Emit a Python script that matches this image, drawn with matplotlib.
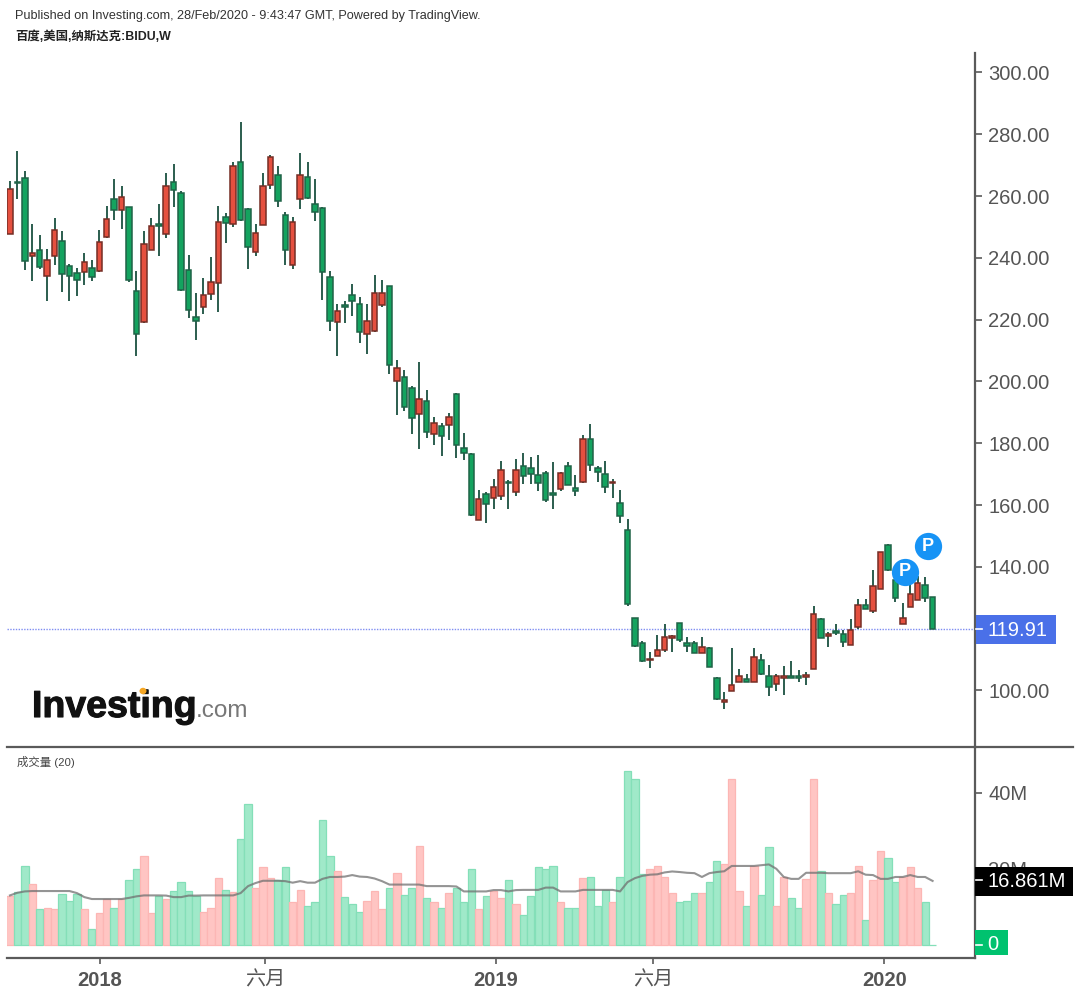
import matplotlib
matplotlib.use('Agg')
import matplotlib.pyplot as plt
import matplotlib.patheffects as pe
from matplotlib.patches import Rectangle, Circle

plt.rcParams['font.family'] = ['Liberation Sans', 'Noto Sans CJK SC', 'DejaVu Sans']

# weekly BIDU candles
opens = [247.7, 264.6, 265.7, 240.6, 242.6, 234.2, 240.7, 245.6, 237.5, 235.1,
         235.4, 236.7, 235.9, 246.6, 259.2, 255.4, 256.3, 229.2, 219.4, 242.5,
         250.8, 247.6, 264.5, 261.0, 236.2, 220.9, 224.2, 228.3, 231.8, 253.2,
         251.0, 270.9, 255.8, 241.8, 250.7, 263.7, 266.8, 253.9, 237.7, 259.0,
         266.3, 257.3, 256.2, 233.8, 219.4, 224.6, 228.0, 225.1, 215.3, 216.4,
         224.7, 230.9, 200.0, 201.4, 198.0, 189.5, 193.7, 182.9, 185.5, 185.9,
         196.0, 178.5, 176.6, 155.3, 163.7, 162.3, 162.9, 167.6, 164.1, 172.5,
         171.9, 169.6, 170.3, 163.8, 165.2, 172.5, 165.5, 167.6, 181.4, 171.9,
         170.1, 167.0, 160.7, 152.0, 123.6, 115.5, 109.7, 111.0, 113.2, 117.0,
         121.8, 115.3, 115.3, 112.1, 113.6, 104.1, 96.2, 99.8, 102.7, 103.6,
         102.8, 110.0, 104.8, 102.2, 104.0, 104.8, 104.7, 104.5, 107.0, 123.1,
         117.5, 119.4, 118.4, 114.6, 120.4, 127.8, 125.7, 132.8, 147.2, 135.9,
         121.6, 127.0, 129.4, 134.2, 130.1]
highs = [264.8, 274.5, 268.0, 250.9, 247.4, 242.8, 252.9, 248.6, 238.0, 236.7,
         241.6, 239.2, 249.1, 256.9, 265.6, 263.4, 256.6, 235.6, 248.6, 252.8,
         257.5, 267.4, 270.4, 261.5, 240.9, 228.6, 233.4, 240.4, 256.9, 254.5,
         271.0, 284.0, 256.1, 250.9, 267.4, 273.3, 269.8, 255.0, 253.2, 273.9,
         271.0, 265.6, 256.4, 235.6, 225.1, 226.2, 231.6, 227.3, 225.1, 234.5,
         232.7, 231.0, 206.8, 203.8, 198.4, 206.2, 197.3, 188.5, 186.5, 189.8,
         196.3, 183.3, 176.8, 165.0, 164.2, 168.5, 174.4, 168.0, 174.9, 176.8,
         175.6, 176.2, 170.9, 173.8, 170.8, 173.8, 169.7, 182.7, 186.2, 172.5,
         174.4, 168.4, 164.9, 155.5, 123.6, 115.9, 112.5, 117.8, 121.4, 117.8,
         121.9, 117.3, 116.0, 117.3, 114.0, 104.3, 99.6, 113.7, 107.1, 105.3,
         113.7, 111.9, 108.3, 105.3, 107.8, 109.5, 106.5, 105.9, 127.2, 123.6,
         118.8, 121.4, 119.6, 123.1, 129.6, 129.6, 139.1, 144.9, 147.3, 138.0,
         128.4, 134.7, 136.9, 136.7, 130.2]
lows = [247.7, 259.0, 236.0, 232.4, 236.4, 225.9, 237.7, 228.8, 225.9, 227.8,
        231.1, 232.4, 235.4, 246.4, 252.4, 249.4, 232.2, 208.1, 218.9, 242.4,
        240.7, 246.4, 256.4, 229.4, 220.5, 213.5, 221.7, 226.5, 222.4, 244.7,
        250.0, 251.8, 236.5, 240.5, 250.7, 262.4, 256.4, 237.6, 236.5, 255.9,
        259.0, 251.8, 226.5, 216.4, 208.1, 218.9, 221.1, 212.4, 208.8, 215.9,
        224.1, 202.3, 189.3, 190.5, 183.0, 178.1, 181.7, 179.3, 175.8, 181.2,
        175.1, 174.7, 156.3, 155.3, 154.1, 158.7, 161.6, 158.7, 162.8, 166.9,
        166.9, 164.5, 161.0, 158.7, 164.5, 166.5, 162.8, 167.0, 171.0, 167.4,
        164.0, 162.2, 154.1, 127.4, 114.0, 109.1, 107.4, 111.0, 112.6, 112.6,
        115.6, 112.6, 112.1, 112.1, 107.5, 96.8, 93.9, 99.8, 102.7, 102.7,
        102.7, 105.0, 98.1, 99.8, 98.6, 103.9, 102.7, 101.7, 106.9, 117.0,
        114.0, 118.0, 114.0, 114.6, 119.9, 126.3, 125.1, 132.8, 138.8, 128.6,
        121.6, 127.0, 129.4, 128.6, 119.91]
closes = [262.3, 264.2, 238.9, 241.6, 237.0, 239.2, 249.1, 234.9, 234.2, 232.9,
          238.5, 233.7, 245.0, 252.7, 255.4, 259.7, 232.7, 215.4, 244.4, 250.3,
          250.2, 263.2, 261.9, 229.5, 223.0, 219.5, 227.9, 232.1, 251.5, 251.3,
          269.8, 252.4, 243.6, 247.9, 263.2, 272.8, 258.3, 242.4, 251.5, 266.8,
          259.4, 254.8, 235.4, 219.5, 222.7, 224.1, 225.9, 216.0, 219.7, 228.6,
          228.6, 205.2, 204.3, 191.7, 188.3, 194.2, 183.5, 186.5, 182.3, 188.5,
          179.4, 177.0, 156.9, 161.9, 160.5, 166.0, 171.3, 167.1, 171.3, 169.3,
          170.0, 167.0, 161.6, 163.4, 170.3, 166.5, 164.6, 181.4, 173.0, 170.6,
          165.8, 167.4, 156.4, 128.1, 114.5, 109.6, 110.2, 113.0, 117.3, 117.7,
          116.2, 114.5, 112.2, 114.2, 107.6, 97.3, 97.0, 101.9, 104.8, 102.8,
          110.7, 105.2, 101.0, 104.8, 104.7, 104.0, 104.0, 104.9, 124.7, 117.0,
          118.4, 118.6, 115.7, 119.5, 127.8, 126.3, 133.7, 144.8, 139.1, 129.9,
          123.6, 131.3, 134.7, 129.9, 119.91]

# volume in millions and its 20 week average
volume = [13.0, 13.9, 20.8, 16.0, 9.4, 9.8, 9.5, 13.3, 11.7, 13.5,
          9.5, 4.1, 8.4, 12.0, 9.8, 12.0, 17.0, 19.9, 23.3, 8.5,
          13.0, 12.2, 14.2, 16.6, 14.2, 12.9, 8.8, 9.8, 17.5, 14.6,
          13.9, 28.0, 37.1, 15.1, 20.4, 17.5, 17.0, 20.4, 11.3, 14.6,
          10.3, 11.3, 32.8, 23.3, 19.4, 12.6, 10.9, 8.8, 11.7, 14.2,
          9.4, 15.1, 19.0, 13.2, 15.1, 26.1, 12.3, 11.3, 9.8, 13.7,
          15.1, 11.3, 19.9, 9.4, 12.8, 14.2, 12.3, 17.0, 10.9, 8.0,
          12.8, 20.4, 19.9, 20.8, 11.3, 9.8, 9.8, 17.5, 18.0, 10.3,
          14.6, 11.3, 18.0, 45.7, 43.8, 18.6, 19.9, 20.8, 18.0, 13.7,
          11.3, 11.7, 13.7, 13.7, 16.6, 22.2, 21.4, 43.8, 14.2, 10.3,
          20.8, 13.2, 25.7, 10.3, 18.0, 12.3, 9.8, 17.4, 43.8, 19.4,
          13.7, 10.9, 13.2, 13.7, 20.8, 6.5, 17.0, 24.7, 22.9, 16.6,
          17.9, 20.4, 15.1, 11.3, 0.1]
volume_ma = [13.05, 13.75, 14.1, 14.2, 14.2, 14.2, 14.2, 14.2, 14.2, 13.66,
             12.6, 12.1, 12.1, 12.1, 12.1, 12.1, 12.4, 12.8, 13.05, 13.05,
             13.05, 13.0, 12.6, 12.6, 13.0, 13.0, 13.05, 13.05, 13.05, 13.05,
             13.05, 13.66, 15.5, 16.3, 16.9, 16.9, 16.9, 16.8, 16.4, 16.8,
             16.4, 16.4, 17.4, 17.9, 17.9, 18.0, 18.4, 18.0, 17.9, 17.5,
             16.8, 15.9, 15.9, 15.9, 15.9, 15.9, 15.5, 15.5, 15.5, 15.5,
             15.4, 14.1, 14.1, 14.1, 14.1, 14.45, 14.45, 14.1, 14.45, 14.5,
             14.5, 14.5, 15.1, 15.1, 14.1, 14.1, 14.1, 14.5, 14.5, 14.5,
             14.5, 14.5, 14.1, 16.55, 17.6, 18.2, 18.5, 18.6, 19.1, 19.35,
             19.2, 19.0, 18.9, 17.9, 18.9, 19.2, 19.4, 20.8, 20.8, 20.8,
             20.8, 21.0, 21.2, 20.05, 17.9, 17.4, 17.4, 19.0, 19.0, 19.0,
             18.9, 18.9, 18.9, 18.9, 19.4, 18.5, 18.4, 17.4, 17.4, 17.9,
             17.9, 18.4, 17.9, 17.9, 16.86]

price_ticks = [100, 120, 140, 160, 180, 200, 220, 240, 260, 280, 300]
volume_ticks = [0, 20, 40]
volume_tick_labels = ['', '20M', '40M']  # the 0 sits on the green tag
date_ticks = [12.1, 34.3, 65.3, 86.4, 117.5]
date_labels = ['2018', '六月', '2019', '六月', '2020']
date_bold = [True, False, True, False, True]
pivot_x = [120.3, 123.4]
pivot_y = [138.4, 146.7]
last_price = 119.91
last_volume_label = 16.861

W, H = 1080, 996
GRAY = '#555555'
LINE = '#5a5a5a'


def fx(px):
    return px / W


def fy(py):
    return 1 - py / H


def scale_tag(x0, x1, y0, y1, color, text, text_x, text_y):
    fig.patches.append(Rectangle((fx(x0), fy(y1)), fx(x1 - x0), (y1 - y0) / H,
                                 transform=fig.transFigure, facecolor=color,
                                 edgecolor='none', zorder=5, figure=fig))
    fig.text(fx(text_x), fy(text_y), text, color='white', fontsize=14.5,
             ha='center', va='center', zorder=6)


fig = plt.figure(figsize=(W / 100, H / 100), dpi=100, facecolor='white')
ax = fig.add_axes([fx(7), fy(747), fx(968), (747 - 53) / H])
vax = fig.add_axes([fx(7), fy(958), fx(968), (958 - 747) / H])

xs = list(range(len(opens)))
up = [c >= o for o, c in zip(opens, closes)]

# candles
ax.vlines(xs, lows, highs, color='#2b5d4e', linewidth=1.4, zorder=2)
bottoms = [min(o, c) for o, c in zip(opens, closes)]
heights = [abs(c - o) for o, c in zip(opens, closes)]
ax.bar(xs, heights, bottom=bottoms, width=0.74,
       color=['#e5503f' if u else '#14a35f' for u in up],
       edgecolor=['#752d25' if u else '#1f6347' for u in up],
       linewidth=1.1, zorder=3)
ax.axhline(last_price, color='#7f8df2', linewidth=1, linestyle=(0, (1, 1)), zorder=1)
ax.scatter(pivot_x, pivot_y, s=385, color='#1793f5', linewidth=0, zorder=5)
for px_, py_ in zip(pivot_x, pivot_y):
    ax.text(px_, py_, 'P', color='white', fontsize=13, fontweight='bold',
            ha='center', va='center', zorder=6)

ax.set_xlim(-0.4, 129.7)
ax.set_ylim(81.7, 306.3)
ax.yaxis.tick_right()
ax.set_yticks(price_ticks)
ax.set_yticklabels(['' if t == 120 else '%.2f' % t for t in price_ticks])
ax.set_xticks([])

# volume
vax.bar(xs, volume, width=0.98,
        color=['#ffc5c3' if u else '#a0e9c9' for u in up],
        edgecolor=['#fcb6b4' if u else '#84dfb8' for u in up],
        linewidth=0.9, zorder=2)
vax.plot(xs, volume_ma, color='#707070', alpha=0.75, linewidth=1.5, zorder=3)
vax.set_xlim(-0.4, 129.7)
vax.set_ylim(-3.42, 52.1)
vax.yaxis.tick_right()
vax.set_yticks(volume_ticks)
vax.set_yticklabels(volume_tick_labels)
vax.set_xticks(date_ticks)
vax.set_xticklabels(date_labels)
for lab, bold in zip(vax.get_xticklabels(), date_bold):
    lab.set_fontweight('bold' if bold else 'normal')
    lab.set_fontsize(14.5)

for a in (ax, vax):
    for s in ('left', 'top'):
        a.spines[s].set_visible(False)
    for s in ('right', 'bottom'):
        a.spines[s].set_color(LINE)
        a.spines[s].set_linewidth(1.6)
    a.tick_params(axis='y', length=5, width=1.2, color=LINE, labelcolor=GRAY,
                  labelsize=14.5, pad=4.5)
    a.tick_params(axis='x', length=4, width=1.2, color=LINE, labelcolor=GRAY, pad=5)
ax.spines['bottom'].set_visible(False)
vax.spines['top'].set_visible(True)
vax.spines['top'].set_color(LINE)
vax.spines['top'].set_linewidth(1.6)
# pane divider runs on under the price scale
fig.add_artist(plt.Line2D([fx(975), fx(1073)], [fy(747), fy(747)], color=LINE, linewidth=1.6))

# price scale tags
scale_tag(976, 1056, 615, 644, '#4a70e8', '%.2f' % last_price, 1017.5, 630)
scale_tag(975, 1073, 867, 896, 'black', '%.3fM' % last_volume_label, 1027, 881)
scale_tag(975, 1008, 930, 955, '#00c26f', '0', 993, 944)
for tick_y in (629, 880, 945):
    fig.add_artist(plt.Line2D([fx(976), fx(982)], [fy(tick_y), fy(tick_y)], color='white',
                              linewidth=1.2, zorder=7))

# header and captions
fig.text(fx(15), fy(16), 'Published on Investing.com, 28/Feb/2020 - 9:43:47 GMT, Powered by TradingView.',
         fontsize=9.1, color='#333333', va='center')
fig.text(fx(15), fy(37), '百度,美国,纳斯达克:BIDU,W', fontsize=8.9, fontweight='bold',
         color='#222222', va='center')
fig.text(fx(17), fy(762), '成交量 (20)', fontsize=8.2, color='#444444', va='center')

# logo
fig.text(fx(32), fy(717), 'Investing', fontsize=27, fontweight='bold', color='#111111',
         va='baseline', zorder=4,
         path_effects=[pe.withStroke(linewidth=0.8, foreground='#111111')])
fig.text(fx(196), fy(717), '.com', fontsize=17.5, color='#777777', va='baseline', zorder=4)
fig.patches.append(Circle((fx(143), fy(691)), 3.5 / W, transform=fig.transFigure,
                          facecolor='#f5a623', edgecolor='none', zorder=5, figure=fig))

fig.savefig('out.png', dpi=100)
